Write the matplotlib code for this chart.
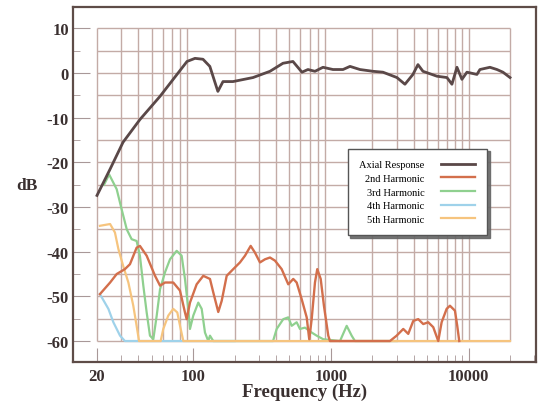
import numpy as np
import matplotlib
matplotlib.use("Agg")
import matplotlib.pyplot as plt

plt.rcParams['font.family'] = ['Liberation Serif', 'DejaVu Serif']
plt.rcParams['axes.unicode_minus'] = False

# axial response (Hz, dB)
axial_f = [20, 24.9, 30.9, 41.0, 57.4, 76.2, 90.1, 103, 117.7, 132, 143.9, 151, 164.5,
           194.4, 271.8, 361, 448.6, 530, 616, 681, 766, 876, 1035, 1224, 1376, 1625,
           2020, 2388, 3017, 3449, 3943, 4288, 4663, 5890, 6962, 7570, 8232, 8948,
           9729, 11500, 12090, 14290, 16070, 17770, 20000]
axial_db = [-27.4, -21.5, -15.5, -10.4, -5.2, -0.3, 2.6, 3.3, 3.1, 1.5, -2.1, -4.1, -1.9,
            -1.9, -1.0, 0.4, 2.2, 2.6, 0.2, 0.8, 0.4, 1.3, 0.8, 0.8, 1.5, 0.8,
            0.4, 0.2, -1.0, -2.5, -0.3, 1.9, 0.4, -0.7, -1.0, -2.5, 1.3, -1.4,
            0.2, -0.3, 0.8, 1.3, 0.8, 0.2, -1.0]

# 2nd harmonic
h2_f = [21, 24.9, 27.8, 31.9, 34.7, 38.8, 41.0, 45.9, 52.8, 57.4, 62.4, 71.6, 80.1, 87.1,
        89.6, 94.7, 105.9, 118.3, 132.3, 139.8, 152, 161, 175, 195.3, 218.5, 237.6, 261.4,
        280.8, 305.4, 332, 361, 392.5, 438.9, 490.1, 532.8, 564, 613, 667, 696, 725, 766,
        796, 843, 890, 957, 984, 2685, 3003, 3354, 3646, 3964, 4309, 4685, 5093, 5538,
        6021, 6372, 6928, 7322, 7960, 8272, 8553]
h2_db = [-49.5, -46.9, -45, -43.9, -42.8, -39.1, -38.7, -40.9, -45.4, -47.6, -46.9, -46.9, -48.7, -53.6,
         -55.1, -51.4, -47.3, -45.4, -46.1, -49.1, -53.5, -51, -45.4, -43.9, -42.4, -40.9, -38.7,
         -40.2, -42.4, -41.7, -41.3, -42, -43.9, -47.3, -46.1, -46.9, -50.6, -54.7, -59.6, -55.1, -46.9,
         -43.9, -46.1, -52.1, -58.8, -60, -60, -58.8, -57.3, -58.4, -55.5, -55.1, -56.2, -55.8, -56.9,
         -60, -55.8, -52.8, -52.1, -53.2, -56.6, -60]

# 3rd harmonic
h3_f = [22.5, 24.5, 27.8, 30.2, 32.9, 35.7, 38.8, 41.0, 43.4, 45.9, 48.5, 51.3, 54.3, 57.4,
        62.4, 67.8, 75.8, 82.4, 87.1, 92.1, 94.7, 100.1, 108.8, 115.2, 121.7, 128.6, 132.3,
        139.8, 380, 403.8, 450.8, 490.1, 518.7, 564, 596, 648, 725, 788, 880, 1164, 1302,
        1415, 1495, 3000]
h3_db = [-25, -22.7, -26, -30.5, -35, -37.2, -37.6, -40.9, -47.6, -53.6, -58.8, -59.6, -54.3, -48.4,
         -44.6, -41.7, -39.8, -40.9, -46.1, -52.8, -57.3, -54.3, -51.4, -52.8, -58.1, -60, -58.8,
         -60, -60, -57.3, -55.1, -54.7, -56.6, -55.8, -57.3, -57, -58.1, -58.8, -59.6, -60, -56.6,
         -58.8, -60, -60]

# 4th harmonic
h4_f = [21, 24.2, 26.3, 29.4, 31.9, 200]
h4_db = [-49.5, -52.8, -55.8, -58.8, -60, -60]

# 5th harmonic
h5_f = [21, 24.9, 27.0, 28.6, 31.0, 33.8, 36.7, 38.8, 40.4, 58, 60.6, 65.9, 71.6, 76.6,
        81.1, 84.7, 20000]
h5_db = [-34.2, -33.8, -35.7, -39.4, -43.2, -46.9, -52.1, -56.6, -60, -60, -57.3, -54.3, -52.8, -53.6,
         -57.3, -60, -60]

labels = ['Axial Response', '2nd Harmonic', '3rd Harmonic', '4th Harmonic', '5th Harmonic']
colors = ['#5a4848', '#d36f4c', '#8fd08f', '#9fd2ea', '#f6c47e']

fig = plt.figure(figsize=(5.42, 4.06), dpi=100)
ax = fig.add_axes([0.1347, 0.1059, 0.8543, 0.8744])
ax.set_xscale('log')
ax.set_xlim(13.39, 30900)
ax.set_ylim(-64.7, 14.8)

# grid confined to the data range
gridc = '#c3aba6'
gx = np.concatenate([np.arange(2, 10) * 10 ** d for d in range(1, 4)] + [[10000, 20000]])
gx = gx[gx >= 20]
ax.vlines(gx, -60, 10, color=gridc, lw=1.0, zorder=1)
ax.hlines(np.arange(-60, 11, 5), 20, 20000, color=gridc, lw=1.0, zorder=1)

series = [(axial_f, axial_db, 2.0), (h2_f, h2_db, 1.7), (h3_f, h3_db, 1.6),
          (h4_f, h4_db, 1.6), (h5_f, h5_db, 1.6)]
zo = [6, 5, 4, 3, 4.5]
for (f, d, lw), lab, c, z in zip(series, labels, colors, zo):
    ax.plot(f, d, color=c, lw=lw, label=lab, zorder=z)

for s in ax.spines.values():
    s.set_color('#5e4c48')
    s.set_linewidth(1.6)

ax.set_yticks(np.arange(-60, 11, 10), labels=[str(v) for v in range(-60, 11, 10)])
ax.set_yticks(np.arange(-55, 11, 10), minor=True)
ax.set_xticks([20, 100, 1000, 10000], labels=['20', '100', '1000', '10000'])
ax.tick_params(axis='y', which='major', direction='in', length=12, color='#a89898', pad=3,
               labelsize=12)
ax.tick_params(axis='y', which='minor', direction='in', length=5, color='#a89898')
ax.tick_params(axis='x', which='major', direction='in', length=10, color='#a89898', pad=4,
               labelsize=12)
ax.tick_params(axis='x', which='minor', direction='in', length=5, color='#a89898')
for t in ax.get_xticklabels() + ax.get_yticklabels():
    t.set_fontweight('bold')
    t.set_color('#3a3030')

ax.set_xlabel('Frequency (Hz)', fontsize=13.5, fontweight='bold', color='#3a3030')
ax.xaxis.set_label_coords(0.5, -0.082)
ax.xaxis.label.set_va('center')
ax.set_ylabel('dB', rotation=0, fontsize=12.5, fontweight='bold', color='#3a3030')
ax.yaxis.set_label_coords(-0.099, 0.5)
ax.yaxis.label.set_va('center')
ax.yaxis.label.set_ha('center')

leg = ax.legend(loc='upper right', bbox_to_anchor=(0.905, 0.616), markerfirst=False,
                fontsize=7.5, handlelength=3.3, handletextpad=1.6, labelspacing=0.42,
                borderpad=1.1, fancybox=False, framealpha=1, edgecolor='#555555',
                shadow={'color': '#666666', 'alpha': 0.9})
leg.get_frame().set_linewidth(1.0)
leg.set_zorder(10)

fig.savefig('out.png', dpi=100, facecolor='white')
